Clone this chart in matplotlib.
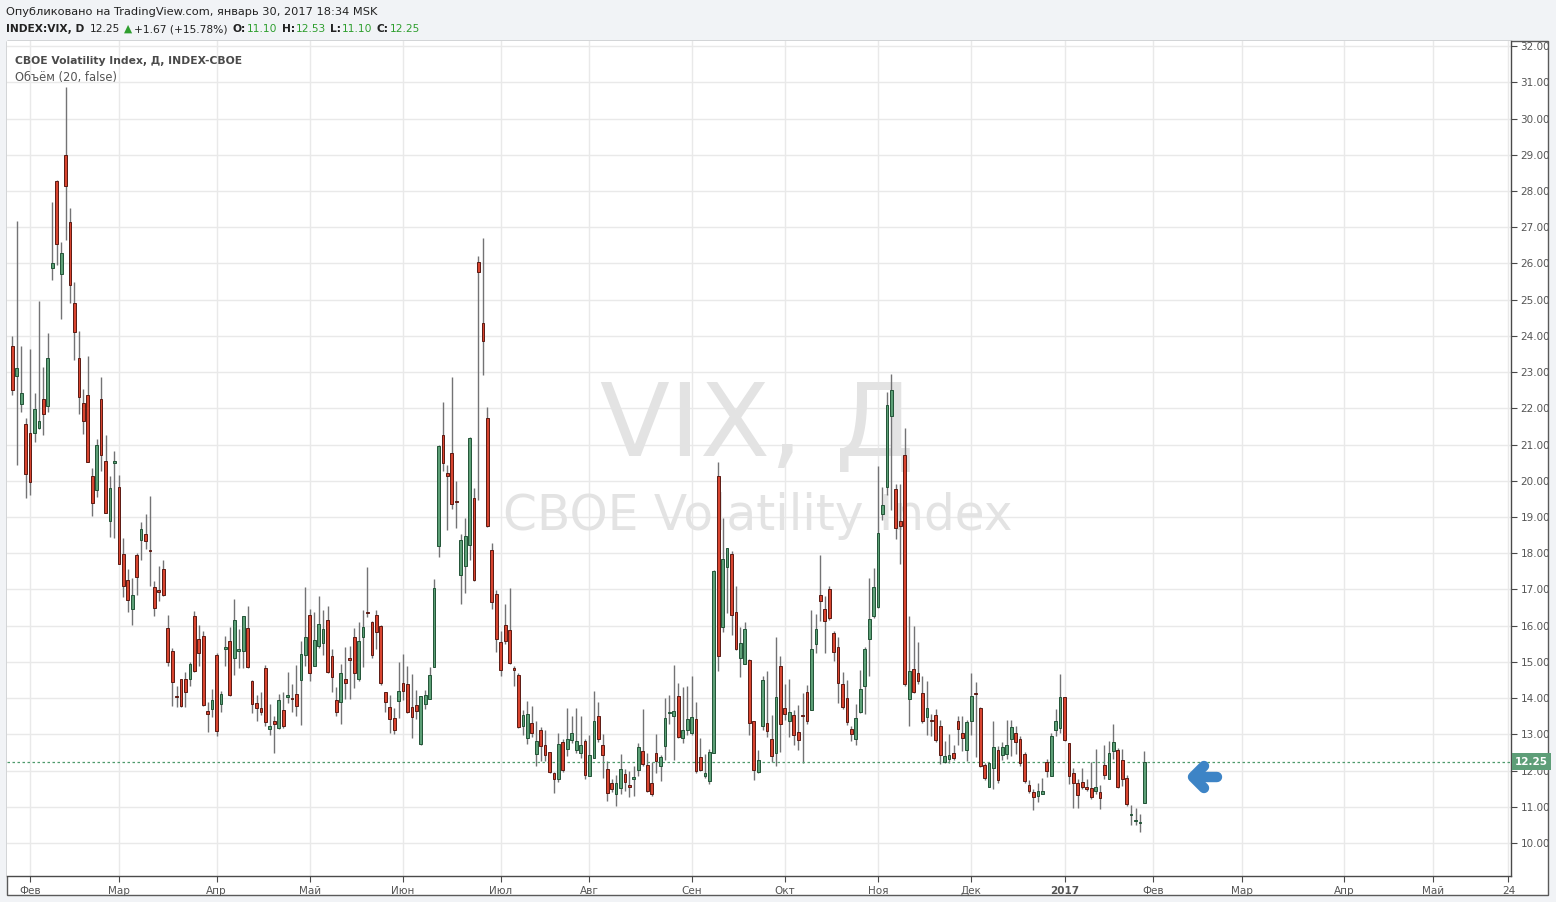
import numpy as np
import pandas as pd
import matplotlib
matplotlib.use('Agg')
import matplotlib.pyplot as plt
from matplotlib.patches import Rectangle
from matplotlib.lines import Line2D

# ── daily VIX candles, 26 Jan 2016 .. 30 Jan 2017 ───────────────────────────
opens = [
    23.73, 22.88, 22.13, 21.58, 21.31, 21.32, 21.47, 22.27, 22.07, 25.86,
    28.27, 25.72, 28.98, 27.13, 24.92, 23.40, 22.16, 22.37, 20.13, 19.74,
    22.27, 20.54, 18.88, 20.49, 19.83, 17.98, 17.26, 16.46, 17.95, 18.36,
    18.54, 18.07, 17.07, 16.99, 17.56, 15.94, 15.30, 14.03, 14.53, 14.53,
    14.53, 16.28, 15.63, 15.72, 13.65, 13.70, 15.20, 13.84, 15.35, 15.58,
    15.11, 15.29, 15.29, 15.94, 14.46, 13.87, 13.73, 14.83, 13.14, 13.37,
    13.17, 13.67, 14.03, 13.97, 14.11, 14.50, 15.18, 16.29, 14.88, 15.43,
    15.51, 16.15, 15.16, 13.95, 13.89, 14.53, 15.10, 15.68, 14.53, 15.68,
    16.35, 16.10, 16.29, 16.00, 14.17, 13.76, 13.45, 13.92, 14.42, 14.39,
    13.76, 13.81, 12.73, 13.83, 13.98, 14.85, 18.20, 21.27, 20.21, 20.76,
    19.42, 17.40, 17.65, 18.23, 19.53, 26.04, 24.36, 21.73, 18.09, 16.88,
    15.56, 16.02, 15.87, 14.79, 14.63, 13.23, 12.91, 13.30, 12.46, 13.11,
    12.72, 12.50, 11.92, 11.77, 12.78, 12.60, 12.84, 12.57, 12.49, 12.83,
    11.85, 12.35, 13.52, 12.72, 12.05, 11.65, 11.36, 11.52, 11.91, 11.59,
    11.78, 12.01, 12.55, 12.16, 11.65, 12.49, 12.12, 12.68, 13.60, 13.51,
    14.07, 12.90, 13.12, 13.03, 13.43, 12.38, 11.85, 11.71, 12.49, 20.12,
    15.95, 17.61, 17.97, 16.39, 15.12, 14.95, 15.05, 13.38, 11.97, 13.22,
    13.31, 12.88, 12.48, 14.90, 13.73, 13.36, 13.54, 13.06, 13.50, 14.17,
    13.68, 15.50, 16.85, 16.47, 17.00, 15.80, 15.41, 14.40, 14.00, 13.15,
    12.87, 13.62, 14.33, 15.63, 16.26, 16.52, 19.07, 19.82, 21.80, 19.76,
    18.90, 20.70, 13.98, 14.81, 14.68, 14.15, 13.47, 13.36, 13.54, 13.24,
    12.24, 12.32, 12.49, 13.37, 13.04, 12.56, 13.36, 14.15, 13.73, 12.15,
    11.55, 12.08, 12.58, 12.44, 12.46, 12.86, 13.05, 12.86, 12.47, 11.61,
    11.41, 11.29, 11.35, 12.24, 11.85, 13.12, 13.18, 14.04, 12.75, 11.94,
    11.66, 11.69, 11.56, 11.53, 11.43, 11.41, 12.16, 11.77, 12.54, 12.56,
    12.28, 11.80, 10.78, 10.60, 10.55, 11.10,
]
highs = [
    23.99, 27.18, 23.71, 21.72, 23.64, 22.41, 24.96, 23.13, 24.09, 27.70,
    28.30, 26.59, 30.88, 27.54, 25.48, 24.13, 22.53, 23.44, 20.35, 21.15,
    22.86, 21.25, 20.13, 20.82, 20.16, 18.43, 17.56, 17.32, 18.02, 18.87,
    19.09, 19.57, 17.24, 17.66, 17.82, 16.30, 15.38, 14.34, 14.53, 14.73,
    15.00, 16.41, 16.03, 15.86, 13.88, 14.25, 15.25, 14.21, 15.71, 15.95,
    16.75, 15.92, 16.26, 16.55, 14.51, 14.09, 14.17, 14.92, 13.85, 13.50,
    14.12, 14.18, 14.73, 14.40, 14.92, 15.58, 17.07, 16.46, 16.38, 16.82,
    16.44, 16.55, 15.36, 14.32, 14.95, 15.40, 15.44, 15.93, 16.11, 16.43,
    17.61, 16.13, 16.44, 16.03, 14.17, 14.09, 13.73, 14.99, 15.23, 14.90,
    14.66, 14.23, 14.06, 14.23, 14.85, 17.30, 20.98, 22.17, 20.44, 22.86,
    20.00, 18.54, 18.96, 21.20, 19.80, 26.21, 26.71, 22.05, 18.27, 16.99,
    15.85, 16.61, 17.04, 14.90, 14.70, 13.67, 13.91, 13.78, 13.36, 13.20,
    13.11, 12.50, 11.97, 13.04, 12.86, 13.72, 13.50, 13.72, 13.50, 12.86,
    12.97, 14.21, 13.89, 13.00, 12.26, 11.76, 11.89, 12.47, 12.05, 11.99,
    12.12, 12.75, 13.69, 12.49, 12.24, 13.00, 12.42, 14.00, 14.08, 14.91,
    14.41, 14.32, 14.33, 14.61, 13.88, 12.91, 12.45, 12.59, 17.53, 20.53,
    18.97, 18.14, 18.05, 17.10, 15.95, 16.09, 15.07, 13.38, 12.57, 14.62,
    14.74, 13.54, 15.68, 15.17, 14.40, 14.54, 13.66, 13.82, 14.14, 14.35,
    16.44, 16.33, 17.94, 16.81, 17.09, 15.85, 15.69, 14.71, 14.51, 13.22,
    13.85, 14.79, 15.41, 17.32, 17.60, 20.42, 19.82, 22.45, 22.95, 19.90,
    19.90, 21.46, 16.26, 15.99, 15.54, 14.61, 14.47, 13.55, 13.70, 13.41,
    12.81, 13.00, 12.72, 13.50, 13.52, 13.41, 14.70, 14.45, 13.75, 12.21,
    12.22, 13.36, 12.69, 12.78, 13.41, 13.40, 13.23, 12.95, 12.51, 11.74,
    11.48, 11.65, 11.79, 12.31, 13.03, 13.69, 14.66, 14.04, 12.77, 12.07,
    11.76, 12.06, 11.77, 12.24, 12.60, 11.59, 12.72, 12.82, 13.28, 12.61,
    12.60, 11.87, 11.04, 10.97, 10.79, 12.53,
]
lows = [
    22.36, 20.43, 21.89, 19.52, 19.62, 21.08, 21.44, 21.25, 21.89, 25.55,
    25.96, 24.47, 26.64, 24.92, 23.33, 21.84, 21.30, 20.51, 19.04, 19.56,
    20.27, 19.10, 18.46, 18.41, 17.70, 16.80, 16.38, 16.03, 16.86, 17.80,
    18.13, 17.10, 16.26, 16.67, 16.81, 14.88, 13.79, 13.75, 13.76, 13.75,
    14.33, 14.71, 14.88, 13.77, 13.06, 13.47, 12.96, 13.63, 14.90, 14.05,
    14.65, 14.83, 14.83, 14.83, 13.59, 13.36, 13.54, 13.22, 12.97, 12.49,
    13.15, 13.17, 13.86, 13.62, 13.50, 13.27, 14.89, 14.46, 14.88, 15.38,
    15.20, 14.69, 14.16, 13.52, 13.28, 13.98, 13.97, 14.28, 14.46, 14.85,
    16.25, 15.10, 15.36, 14.37, 13.63, 13.05, 13.02, 13.45, 13.95, 13.60,
    12.90, 13.43, 12.71, 13.71, 13.98, 14.85, 17.89, 20.27, 18.64, 19.22,
    18.70, 16.59, 16.89, 17.82, 17.23, 19.46, 22.93, 18.73, 16.47, 15.28,
    14.61, 15.50, 14.95, 14.33, 13.18, 12.97, 12.74, 12.94, 12.12, 12.26,
    12.26, 11.94, 11.39, 11.68, 11.96, 12.40, 12.77, 12.49, 12.35, 11.77,
    11.85, 12.35, 12.79, 11.80, 11.16, 11.41, 11.02, 11.34, 11.43, 11.27,
    11.30, 11.85, 12.12, 11.41, 11.30, 11.94, 11.71, 12.29, 13.28, 12.29,
    12.90, 12.77, 12.97, 12.99, 11.94, 11.99, 11.80, 11.64, 12.49, 14.75,
    15.83, 16.36, 15.75, 15.33, 14.59, 14.95, 12.98, 11.74, 11.94, 13.13,
    12.94, 12.25, 12.12, 12.50, 13.41, 12.92, 12.70, 12.58, 12.21, 13.29,
    13.68, 15.25, 16.12, 15.25, 16.15, 15.02, 13.87, 13.71, 13.27, 12.81,
    12.71, 13.59, 13.57, 14.62, 16.21, 16.49, 18.93, 19.60, 19.20, 18.40,
    17.69, 14.33, 13.24, 14.15, 14.38, 13.30, 12.97, 12.95, 12.78, 12.17,
    12.21, 12.20, 12.29, 12.72, 12.54, 12.26, 12.99, 12.38, 12.10, 11.75,
    11.55, 11.48, 11.66, 12.29, 12.31, 12.40, 12.45, 12.12, 11.65, 11.39,
    10.91, 11.13, 11.35, 11.82, 11.85, 12.95, 13.03, 12.82, 11.62, 10.96,
    10.96, 11.48, 11.43, 11.22, 11.34, 10.93, 11.77, 11.77, 12.31, 11.52,
    11.57, 11.02, 10.49, 10.51, 10.30, 11.10,
]
closes = [
    22.50, 23.11, 22.42, 20.20, 19.98, 21.98, 21.65, 21.84, 23.38, 26.00,
    26.54, 26.29, 28.14, 25.40, 24.11, 22.31, 21.64, 20.53, 19.38, 20.98,
    20.72, 19.11, 19.81, 20.55, 17.70, 17.09, 16.70, 16.86, 17.35, 18.67,
    18.34, 18.05, 16.50, 16.92, 16.84, 14.99, 14.44, 14.02, 13.79, 14.17,
    14.94, 14.74, 15.24, 13.82, 13.56, 13.95, 13.10, 14.12, 15.42, 14.09,
    16.16, 15.36, 16.26, 14.85, 13.84, 13.72, 13.62, 13.35, 13.24, 13.28,
    13.95, 13.22, 14.08, 13.96, 13.77, 15.22, 15.70, 14.68, 15.60, 16.05,
    15.91, 14.72, 14.57, 13.63, 14.69, 14.41, 15.04, 14.68, 15.57, 15.95,
    16.33, 15.20, 15.82, 14.42, 13.90, 13.43, 13.12, 14.19, 14.20, 13.63,
    13.47, 13.65, 14.05, 14.08, 14.64, 17.03, 20.97, 20.50, 20.14, 19.37,
    19.41, 18.37, 18.48, 21.17, 17.25, 25.76, 23.85, 18.75, 16.64, 15.63,
    14.77, 15.58, 14.96, 14.76, 13.20, 13.54, 13.55, 13.04, 12.82, 12.67,
    12.44, 11.97, 11.77, 12.74, 12.02, 12.87, 13.05, 12.83, 12.72, 11.87,
    12.44, 13.37, 12.86, 12.42, 11.39, 11.50, 11.66, 12.05, 11.68, 11.55,
    11.81, 12.64, 12.19, 11.43, 11.34, 12.27, 12.38, 13.45, 13.63, 13.65,
    12.94, 13.12, 13.42, 13.48, 11.98, 12.02, 11.94, 12.51, 17.50, 15.16,
    17.85, 18.14, 16.30, 15.37, 15.53, 15.92, 13.30, 12.02, 12.29, 14.50,
    13.10, 12.39, 14.02, 13.29, 13.57, 13.63, 12.99, 12.84, 13.48, 13.38,
    15.36, 15.91, 16.69, 16.12, 16.21, 15.28, 14.41, 13.75, 13.34, 13.02,
    13.46, 14.24, 15.36, 16.19, 17.06, 18.56, 19.32, 22.08, 22.51, 18.71,
    18.74, 14.38, 14.74, 14.17, 14.48, 13.37, 13.72, 13.35, 12.85, 12.42,
    12.41, 12.43, 12.34, 13.15, 12.90, 13.33, 14.07, 14.12, 12.14, 11.79,
    12.22, 12.64, 11.75, 12.64, 12.72, 13.19, 12.79, 12.20, 11.71, 11.45,
    11.27, 11.43, 11.44, 11.99, 12.95, 13.37, 14.04, 12.85, 11.85, 11.67,
    11.32, 11.56, 11.49, 11.26, 11.54, 11.23, 11.87, 12.48, 12.78, 11.54,
    11.77, 11.07, 10.81, 10.63, 10.58, 12.25,
]

nyse_holidays = ['2016-02-15', '2016-03-25', '2016-05-30', '2016-07-04',
                 '2016-09-05', '2016-11-24', '2016-12-26', '2017-01-02',
                 '2017-01-16']
month_names = ['Янв', 'Фев', 'Мар', 'Апр', 'Май', 'Июн',
               'Июл', 'Авг', 'Сен', 'Окт', 'Ноя', 'Дек']
y_ticks = list(range(10, 33))
change_txt = '+1.67 (+15.78%)'

# trading days for the candles, plain weekdays for the empty future part
dates = pd.bdate_range('2016-01-26', '2017-01-30', freq='C', holidays=nyse_holidays)
future = pd.bdate_range('2017-01-31', '2017-05-24')
all_dates = dates.append(future)

o = np.array(opens); h = np.array(highs); l = np.array(lows); c = np.array(closes)
x = np.arange(len(c))

W, H = 1556, 902
def fx(px): return px / W
def fy(py): return 1 - py / H

fig = plt.figure(figsize=(W / 100, H / 100), dpi=100)
fig.patch.set_facecolor('#F1F3F6')

# white chart panel with frame
fig.add_artist(Rectangle((fx(7), fy(895)), fx(1548) - fx(7), fy(41) - fy(895),
                         transform=fig.transFigure, facecolor='white',
                         edgecolor='#5A5A5A', lw=1, zorder=-1))

ax = fig.add_axes([fx(7), fy(876), fx(1510.7) - fx(7), fy(41) - fy(876)])
ax.set_facecolor('white')
ax.set_xlim(-1.2, len(all_dates) - 0.5)
ax.set_ylim(9.09, 32.14)

# month ticks
ticks, labels = [], []
prev = None
for i, d in enumerate(all_dates):
    key = (d.year, d.month)
    if key != prev and i > 0:
        ticks.append(i)
        labels.append(str(d.year) if d.month == 1 else month_names[d.month - 1])
    prev = key
ticks.append(len(all_dates) - 1)
labels.append(str(all_dates[-1].day))

ax.set_xticks(ticks)
ax.set_xticklabels(labels)
for t in ax.get_xticklabels():
    if t.get_text().isdigit() and len(t.get_text()) == 4:
        t.set_fontweight('bold')
        t.set_color('#333333')

ax.yaxis.tick_right()
ax.set_yticks(y_ticks)
ax.set_yticklabels([f'{v:.2f}' for v in y_ticks])
ax.tick_params(axis='both', direction='out', length=4, width=0.8, color='#4A4A4A',
               labelsize=7.5, labelcolor='#555555', pad=3)
ax.grid(True, color='#E9E9E9', lw=1, zorder=0)
ax.set_axisbelow(True)
for s in ['top', 'left']:
    ax.spines[s].set_visible(False)
for s in ['bottom', 'right']:
    ax.spines[s].set_color('#4A4A4A')
    ax.spines[s].set_linewidth(1)

# watermark
ax.text(fx(757), fy(428), 'VIX, Д', transform=fig.transFigure, fontsize=73.5,
        color='#E3E3E3', ha='center', va='center', zorder=0.6)
ax.text(fx(758), fy(516), 'CBOE Volatility Index', transform=fig.transFigure,
        fontsize=35, color='#E3E3E3', ha='center', va='center', zorder=0.6)

# candles
up = c >= o
ax.vlines(x, l, h, color='#737375', lw=1, zorder=2)
body = np.where(np.abs(c - o) < 0.03, 0.03, c - o)
ax.bar(x[up], body[up], bottom=o[up], width=0.62, color='#5c9f76',
       edgecolor='#225437', lw=0.7, zorder=3)
ax.bar(x[~up], body[~up], bottom=o[~up], width=0.62, color='#d8442f',
       edgecolor='#5b1a13', lw=0.7, zorder=3)

# last price line + label
last = c[-1]
ax.axhline(last, color='#4E9A6C', lw=0.9, ls=(0, (2, 2)), zorder=2.5)
ax.text(1.003, last, f'{last:.2f}', transform=ax.get_yaxis_transform(),
        ha='left', va='center', fontsize=7.5, color='white', fontweight='bold',
        bbox=dict(boxstyle='square,pad=0.3', fc='#5E9E78', ec='none'),
        zorder=10, clip_on=False)

# legend texts inside chart
fig.text(fx(15), fy(61), 'CBOE Volatility Index, Д, INDEX-CBOE', fontsize=7.75,
         fontweight='bold', color='#4A4A4A', va='center')
fig.text(fx(15), fy(78), 'Объём (20, false)', fontsize=8.3, color='#555555',
         va='center')

# header
fig.text(fx(6), fy(12), 'Опубликовано на TradingView.com, январь 30, 2017 18:34 MSK',
         fontsize=8.2, color='#222222', va='center')
green = '#2E9E2E'
dark = '#222222'
parts = [
    ('INDEX:VIX, D', dark, 'bold', 0),
    (f'{last:.2f}', dark, 'normal', 6),
    ('▲', green, 'normal', 3),
    (change_txt, dark, 'normal', 2),
    ('O:', dark, 'bold', 5),
    (f'{o[-1]:.2f}', green, 'normal', 1),
    ('H:', dark, 'bold', 5),
    (f'{h[-1]:.2f}', green, 'normal', 1),
    ('L:', dark, 'bold', 4),
    (f'{l[-1]:.2f}', green, 'normal', 1),
    ('C:', dark, 'bold', 4),
    (f'{c[-1]:.2f}', green, 'normal', 1),
]
prev_txt = fig.text(fx(6), fy(29), parts[0][0], fontsize=7.7, color=parts[0][1],
                    fontweight=parts[0][2], va='center')
for txt, col, wt, gap in parts[1:]:
    prev_txt = ax.annotate(txt, xy=(1, 0.5), xycoords=prev_txt, xytext=(gap, 0),
                           textcoords='offset pixels', fontsize=7.7, color=col,
                           fontweight=wt, ha='left', va='center',
                           annotation_clip=False)

# blue arrow pointing at the last candle
arrow_kw = dict(color='#3D84C6', lw=7.5, solid_capstyle='round',
                solid_joinstyle='round', transform=fig.transFigure, zorder=5)
fig.add_artist(Line2D([fx(1204), fx(1193), fx(1204)], [fy(766), fy(777), fy(788)], **arrow_kw))
fig.add_artist(Line2D([fx(1194), fx(1217)], [fy(777), fy(777)], **arrow_kw))

fig.savefig('out.png', dpi=100, facecolor=fig.get_facecolor())
